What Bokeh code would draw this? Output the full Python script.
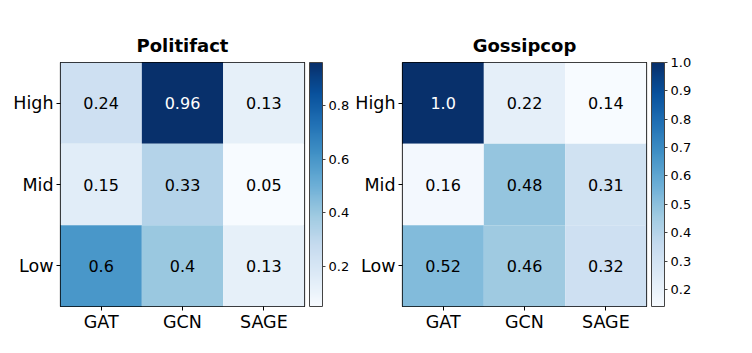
from bokeh.plotting import figure
from bokeh.models import ColumnDataSource, LinearColorMapper, ColorBar, FixedTicker, PrintfTickFormatter
from bokeh.palettes import Blues256
from bokeh.layouts import row
from bokeh.embed import file_html
from bokeh.resources import INLINE

models = ["GAT", "GCN", "SAGE"]
levels = ["High", "Mid", "Low"]
politifact_values = [[0.24, 0.96, 0.13],
                     [0.15, 0.33, 0.05],
                     [0.6, 0.4, 0.13]]
gossipcop_values = [[1.0, 0.22, 0.14],
                    [0.16, 0.48, 0.31],
                    [0.52, 0.46, 0.32]]
politifact_ticks = [0.2, 0.4, 0.6, 0.8]
gossipcop_ticks = [0.2, 0.3, 0.4, 0.5, 0.6, 0.7, 0.8, 0.9, 1.0]

FONT = "DejaVu Sans"
palette = list(Blues256)[::-1]


def make_panel(title, values, ticks, left_border, right_border, width):
    xs, ys, vs, labels, tcolors = [], [], [], [], []
    vmin = min(min(r) for r in values)
    vmax = max(max(r) for r in values)
    for i, lev in enumerate(levels):
        for j, m in enumerate(models):
            v = values[i][j]
            xs.append(m)
            ys.append(lev)
            vs.append(v)
            labels.append(str(v))
            tcolors.append("white" if v > 0.8 * vmax else "black")
    src = ColumnDataSource(dict(x=xs, y=ys, v=vs, label=labels, tc=tcolors))
    mapper = LinearColorMapper(palette=palette, low=vmin, high=vmax)

    p = figure(x_range=models, y_range=levels[::-1],
               width=width, height=353,
               frame_width=244, frame_height=244,
               min_border_left=left_border, min_border_right=right_border,
               min_border_top=62, min_border_bottom=47,
               output_backend="svg", toolbar_location=None,
               title=title)
    p.rect(x="x", y="y", width=1, height=1, source=src,
           fill_color={"field": "v", "transform": mapper}, line_color=None)
    p.text(x="x", y="y", text="label", source=src, text_align="center",
           text_baseline="middle", text_color="tc", text_font_size="16px",
           text_font={"value": FONT})

    p.title.align = "center"
    p.title.text_font = FONT
    p.title.text_font_size = "18px"
    p.title.text_font_style = "bold"
    p.title.text_color = "black"
    p.title.standoff = 13

    p.grid.visible = False
    p.outline_line_color = "black"
    p.outline_line_width = 1.2
    p.background_fill_color = None
    p.border_fill_color = "white"
    for ax in (p.xaxis[0], p.yaxis[0]):
        ax.axis_line_color = None
        ax.major_tick_line_color = "black"
        ax.major_tick_in = 0
        ax.major_tick_out = 4
        ax.minor_tick_line_color = None
        ax.major_label_text_font = FONT
        ax.major_label_text_font_size = "17.5px"
        ax.major_label_text_color = "black"
        ax.major_label_standoff = 3
    p.xaxis[0].major_label_standoff = 1

    cb = ColorBar(color_mapper=mapper, ticker=FixedTicker(ticks=ticks),
                  formatter=PrintfTickFormatter(format="%.1f"),
                  width=13, padding=0, margin=0, location=(5, 0),
                  bar_line_color="#444444", bar_line_width=1,
                  major_tick_line_color="#444444", major_tick_in=0, major_tick_out=3,
                  minor_tick_line_color=None,
                  major_label_text_font=FONT, major_label_text_font_size="13px",
                  major_label_text_color="black", label_standoff=3,
                  background_fill_color=None, border_line_color=None)
    p.add_layout(cb, "right")
    return p


p1 = make_panel("Politifact", politifact_values, politifact_ticks, 60, 48, 352)
p2 = make_panel("Gossipcop", gossipcop_values, gossipcop_ticks, 50, 107, 400)
layout = row(p1, p2)

open("out.html", "w").write(file_html(layout, INLINE))
